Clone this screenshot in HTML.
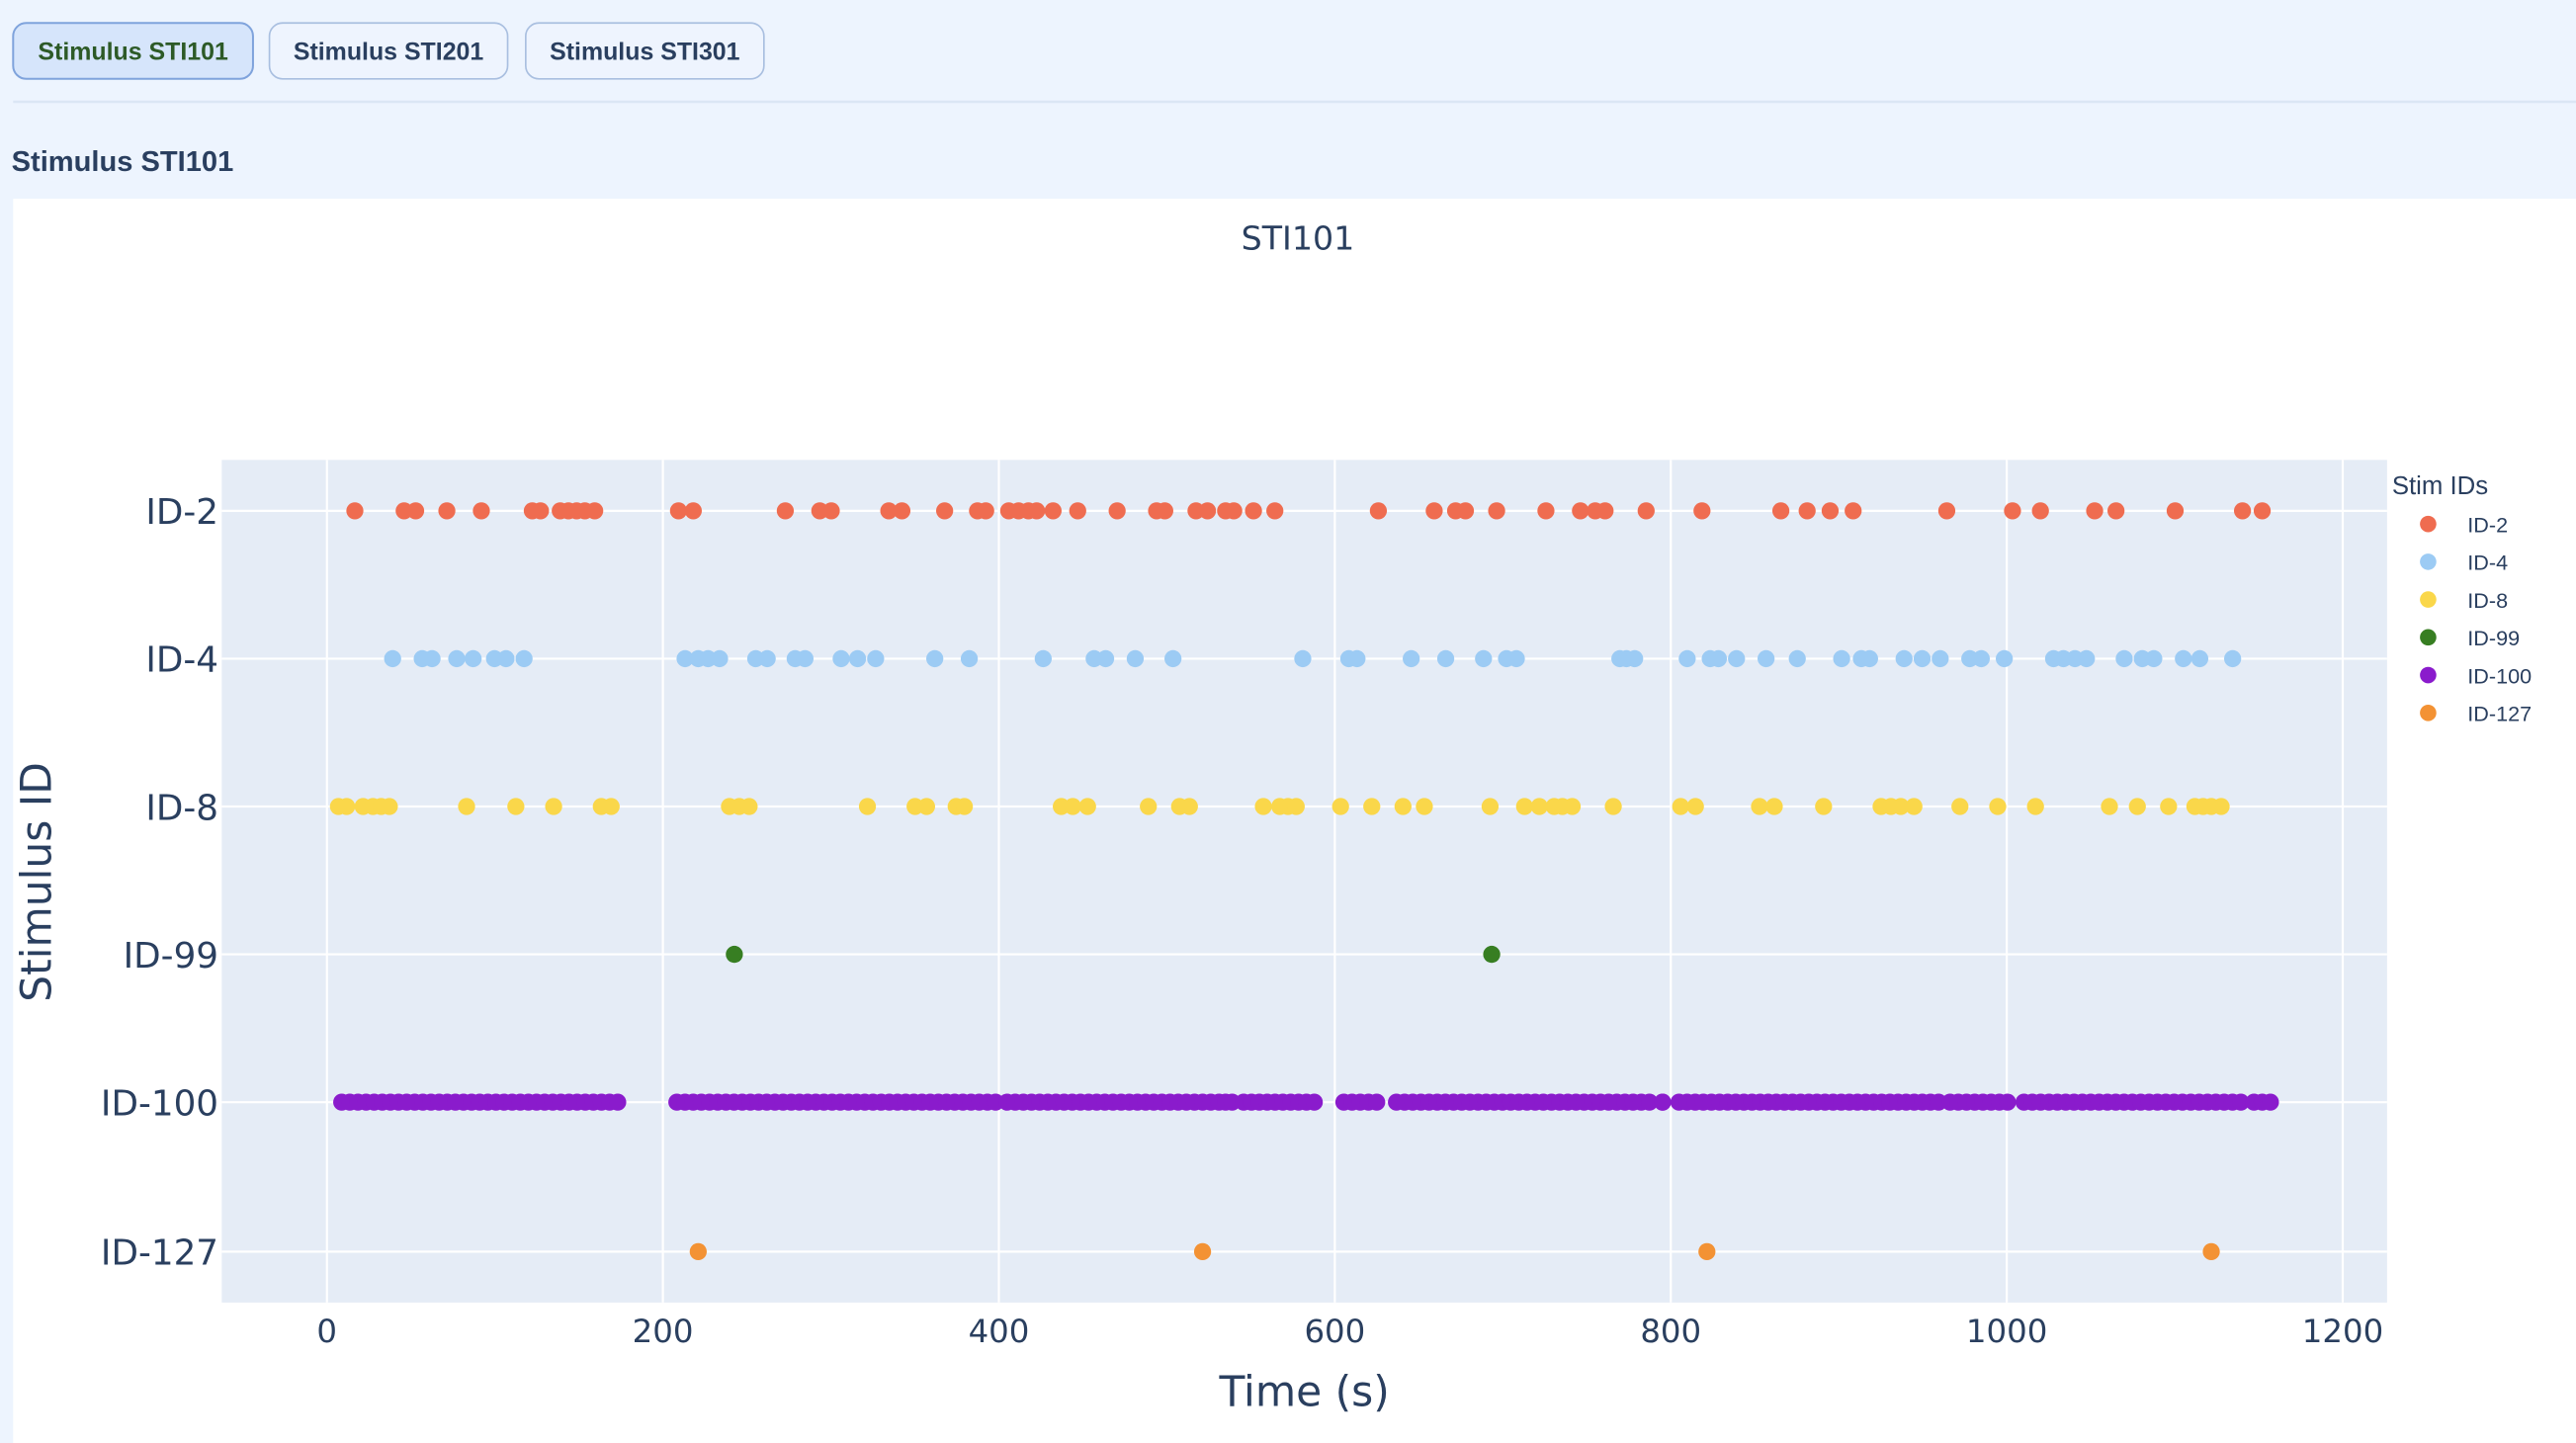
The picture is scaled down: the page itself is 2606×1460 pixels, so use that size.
<!DOCTYPE html>
<html><head><meta charset="utf-8"><style>
html,body{margin:0;padding:0;background:#edf4fe;overflow:hidden}
svg{display:block}
</style></head><body>
<svg id="s" width="2606" height="1460" viewBox="0 0 1568 878.5" preserveAspectRatio="none" xmlns="http://www.w3.org/2000/svg" font-family="Liberation Sans, sans-serif">
<rect x="0" y="0" width="1568" height="879" fill="#edf4fe"/>
<rect x="8" y="14" width="146" height="34" rx="8" fill="#d6e5fb" stroke="#7fa3dc" stroke-width="1.2"/>
<rect x="164" y="14" width="145" height="34" rx="8" fill="#eef4fe" stroke="#a9bfe0" stroke-width="1"/>
<rect x="320" y="14" width="145" height="34" rx="8" fill="#eef4fe" stroke="#a9bfe0" stroke-width="1"/>
<g font-size="15" font-weight="bold" text-anchor="middle">
<text x="81" y="36.5" fill="#2d5a27">Stimulus STI101</text>
<text x="236.5" y="36.5" fill="#2a3f5f">Stimulus STI201</text>
<text x="392.5" y="36.5" fill="#2a3f5f">Stimulus STI301</text>
</g>
<line x1="8" y1="62" x2="1568" y2="62" stroke="#dbe6f5" stroke-width="1.5"/>
<text x="7" y="104" font-size="17.5" font-weight="bold" fill="#2a3f5f">Stimulus STI101</text>
<rect x="8" y="121" width="1560" height="758" fill="#fff"/>
<text x="790" y="152" font-size="20" font-family="DejaVu Sans, sans-serif" fill="#2a3f5f" text-anchor="middle">STI101</text>
<rect x="135" y="280" width="1318" height="513" fill="#e5ecf6"/>
<g stroke="#fff" stroke-width="1.3" id="grid"></g>
<g id="dots"></g>
<g font-size="21.5" font-family="DejaVu Sans, sans-serif" fill="#2a3f5f" text-anchor="end">
<text x="133" y="319">ID-2</text><text x="133" y="409">ID-4</text><text x="133" y="499">ID-8</text>
<text x="133" y="589">ID-99</text><text x="133" y="679">ID-100</text><text x="133" y="770">ID-127</text>
</g>
<g font-size="19.5" font-family="DejaVu Sans, sans-serif" fill="#2a3f5f" text-anchor="middle" id="xt"></g>
<text x="794" y="856" font-size="25.5" font-family="DejaVu Sans, sans-serif" fill="#2a3f5f" text-anchor="middle">Time (s)</text>
<text transform="translate(31,537) rotate(-90)" font-size="25.5" font-family="DejaVu Sans, sans-serif" fill="#2a3f5f" text-anchor="middle">Stimulus ID</text>
<text x="1456" y="301" font-size="15.5" fill="#2a3f5f">Stim IDs</text>
<g id="leg" font-size="13" fill="#2a3f5f"></g>
</svg>
<script>
var NS="http://www.w3.org/2000/svg";
function el(p,t,a,txt){var e=document.createElementNS(NS,t);for(var k in a)e.setAttribute(k,a[k]);if(txt)e.textContent=txt;document.getElementById(p).appendChild(e);}
var rows=[311,401,491,581,671,762];
rows.forEach(function(y){el("grid","line",{x1:135,x2:1453,y1:y,y2:y});});
for(var i=0;i<=6;i++){var x=199+i*204.5;el("grid","line",{x1:x,x2:x,y1:280,y2:793});el("xt","text",{x:x,y:817},String(i*200));}
var C=["#ef6c50","#9ccbf4","#fad74a","#377e22","#8a1bcc","#f39234"];
var D=[
[216,246,253,272,293,324,329,341,346,351,356,362,413,422,478,499,506,541,549,575,595,600,614,620,626,631,641,656,680,704,709,728,735,746,751,763,776,839,873,886,892,911,941,962,971,977,1002,1036,1084,1100,1114,1128,1185,1225,1242,1275,1288,1324,1365,1377],
[239,257,263,278,288,301,308,319,417,425,431,438,460,467,484,490,512,522,533,569,590,635,666,673,691,714,793,821,826,859,880,903,917,923,986,990,995,1027,1041,1046,1057,1075,1094,1121,1133,1138,1159,1170,1181,1199,1206,1220,1250,1256,1263,1270,1293,1304,1311,1329,1339,1359],
[206,211,221,227,232,237,284,314,337,366,372,444,450,456,528,557,564,582,587,646,653,662,699,718,724,769,779,784,789,816,835,854,867,907,928,937,946,951,957,982,1023,1032,1071,1080,1110,1145,1151,1157,1165,1193,1216,1239,1284,1301,1320,1336,1341,1346,1352],
[447,908],[],[425,732,1039,1346]];
var seg=[[208,376],[412,606],[613,737],[742,750],[757,800],[818,838],[850,1004],[1012,1012],[1022,1180],[1187,1222],[1232,1364],[1372,1382]];
seg.forEach(function(s){var n=Math.max(1,Math.round((s[1]-s[0])/5));for(var j=0;j<=n;j++)D[4].push(n?s[0]+(s[1]-s[0])*j/n:s[0]);});
D.forEach(function(a,r){a.forEach(function(x){el("dots","circle",{cx:x,cy:rows[r],r:5.2,fill:C[r]});});});
var L=["ID-2","ID-4","ID-8","ID-99","ID-100","ID-127"];
L.forEach(function(t,i){var y=319+i*23;el("leg","circle",{cx:1478,cy:y,r:5,fill:C[i]});el("leg","text",{x:1502,y:y+5},t);});
</script>
</body></html>
